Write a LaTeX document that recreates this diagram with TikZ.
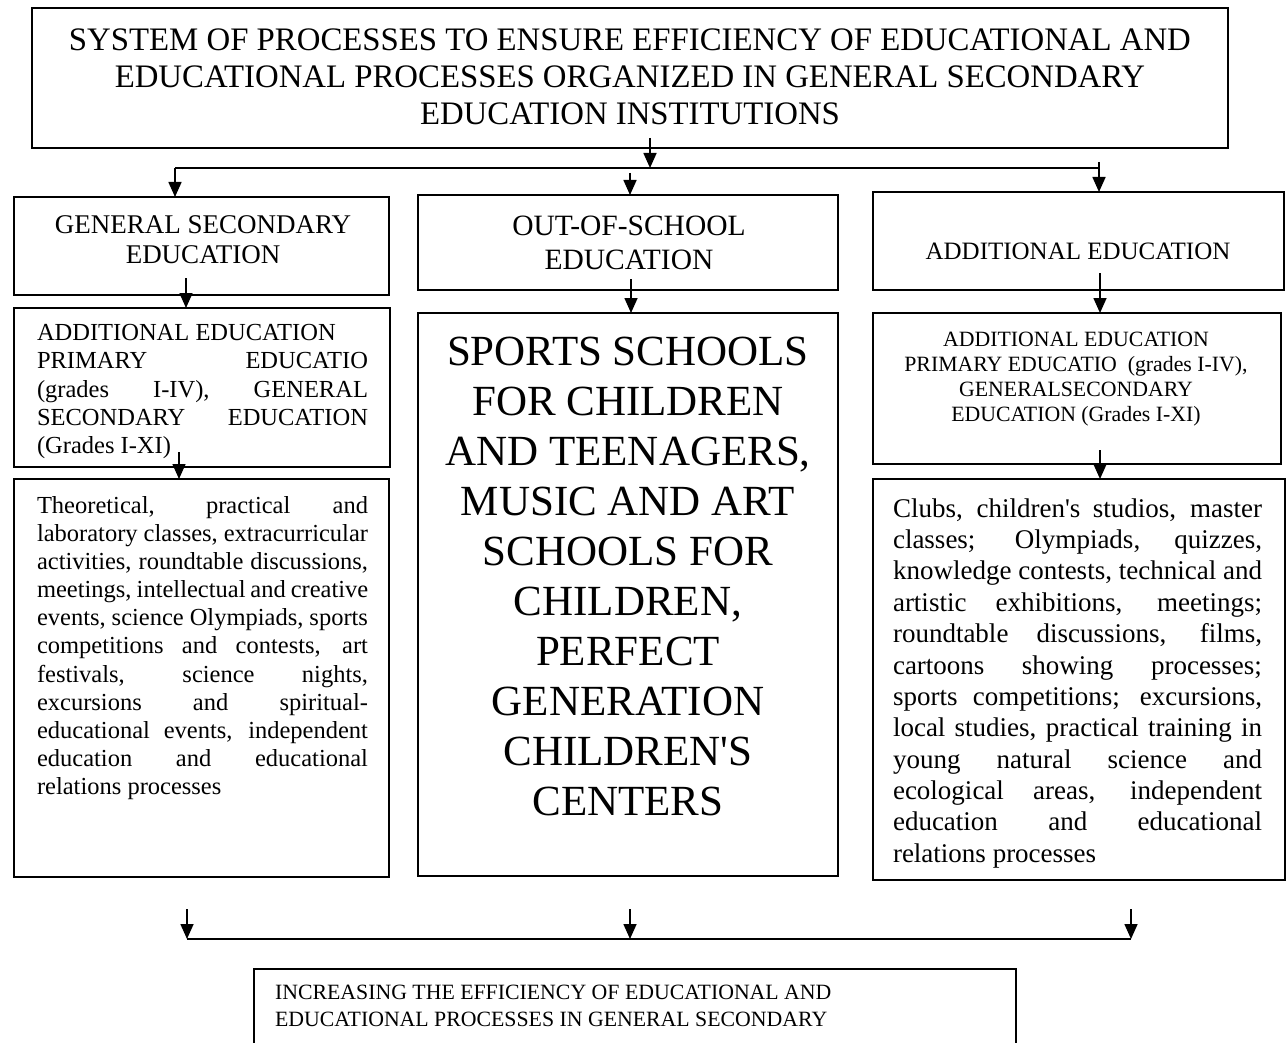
\documentclass[tikz,border=0pt]{standalone}
\usepackage{fontspec}
\setmainfont{Liberation Serif}[Ligatures=TeXOff]
\usetikzlibrary{arrows.meta}
\newcommand\JL[1]{\hbox to\hsize{\spaceskip=0.25em plus 1fil minus 0.05em\relax #1}}
\newcommand\NL[1]{\hbox to\hsize{#1\hfil}}
\tikzset{
  box/.style={draw, line width=1.8pt, rectangle, inner sep=0pt, outer sep=0pt, anchor=north west},
  txt/.style={inner sep=0pt, outer sep=0pt},
  arr/.style={line width=1.6pt, -{Triangle[length=15pt,width=13pt]}},
  hl/.style={line width=2.2pt}
}
\begin{document}
\begin{tikzpicture}[x=1pt,y=-1pt]
\useasboundingbox[fill=white] (0,0) rectangle (1287,1043);
% boxes
\node[box, minimum width=1196pt, minimum height=140pt] (top) at (32,8) {};
\node[box, minimum width=375pt, minimum height=98pt] (gse) at (14,197) {};
\node[box, minimum width=420pt, minimum height=95pt] (oos) at (418,195) {};
\node[box, minimum width=411pt, minimum height=98pt] (ae) at (873,192) {};
\node[box, minimum width=376pt, minimum height=159pt] (lb2) at (14,308) {};
\node[box, minimum width=420pt, minimum height=563pt] (mb) at (418,313) {};
\node[box, minimum width=408pt, minimum height=151pt] (rb2) at (873,313) {};
\node[box, minimum width=375pt, minimum height=398pt] (lb4) at (14,479) {};
\node[box, minimum width=412pt, minimum height=401pt] (rb4) at (873,479) {};
\node[box, minimum width=762pt, minimum height=200pt] (bot) at (254,969) {};
% texts
\node[txt, anchor=north, align=center, font=\fontsize{32.8}{37}\selectfont] (t1) at (630,28.6)
  {SYSTEM OF PROCESSES TO ENSURE EFFICIENCY OF EDUCATIONAL AND\\
   EDUCATIONAL PROCESSES ORGANIZED IN GENERAL SECONDARY\\
   EDUCATION INSTITUTIONS};
\node[txt, anchor=north, align=center, font=\fontsize{27}{30}\selectfont] (t2) at (203,215.5)
  {GENERAL SECONDARY\\ EDUCATION};
\node[txt, anchor=north, align=center, font=\fontsize{29.5}{34}\selectfont] (t3) at (629,215.7)
  {OUT-OF-SCHOOL\\ EDUCATION};
\node[txt, anchor=north, align=center, font=\fontsize{25}{29}\selectfont] (t4) at (1078,243.2)
  {ADDITIONAL EDUCATION};
\node[txt, anchor=north west, font=\fontsize{24.5}{28.3}\selectfont] (t5) at (37,324.4)
  {\parbox{331pt}{%
   \NL{ADDITIONAL EDUCATION}
   \JL{PRIMARY EDUCATIO}
   \JL{(grades I-IV), GENERAL}
   \JL{SECONDARY EDUCATION}
   \NL{(Grades I-XI)}}};
\node[txt, anchor=north, align=center, font=\fontsize{43}{50}\selectfont] (t6) at (628,337)
  {SPORTS SCHOOLS\\ FOR CHILDREN\\ AND TEENAGERS,\\ MUSIC AND ART\\ SCHOOLS FOR\\
   CHILDREN,\\ PERFECT\\ GENERATION\\ CHILDREN'S\\ CENTERS};
\node[txt, anchor=north, align=center, font=\fontsize{21.8}{25}\selectfont] (t7) at (1076,332.4)
  {ADDITIONAL EDUCATION\\ PRIMARY EDUCATIO~ (grades I-IV),\\ GENERALSECONDARY\\ EDUCATION (Grades I-XI)};
\node[txt, anchor=north west, font=\fontsize{24.5}{28.1}\selectfont] (t8) at (37,496.4)
  {\parbox{331pt}{%
   \JL{Theoretical, practical and}
   \JL{laboratory classes, extracurricular}
   \JL{activities, roundtable discussions,}
   \JL{meetings, intellectual and creative}
   \JL{events, science Olympiads, sports}
   \JL{competitions and contests, art}
   \JL{festivals, science nights,}
   \JL{excursions and spiritual-}
   \JL{educational events, independent}
   \JL{education and educational}
   \NL{relations processes}}};
\node[txt, anchor=north west, font=\fontsize{27}{31.36}\selectfont] (t9) at (893,498.5)
  {\parbox{369pt}{%
   \JL{Clubs, children's studios, master}
   \JL{classes; Olympiads, quizzes,}
   \JL{knowledge contests, technical and}
   \JL{artistic exhibitions, meetings;}
   \JL{roundtable discussions, films,}
   \JL{cartoons showing processes;}
   \JL{sports competitions; excursions,}
   \JL{local studies, practical training in}
   \JL{young natural science and}
   \JL{ecological areas, independent}
   \JL{education and educational}
   \NL{relations processes}}};
\node[txt, anchor=north west, align=left, font=\fontsize{21.8}{27}\selectfont] (t10) at (275,985.4)
  {INCREASING THE EFFICIENCY OF EDUCATIONAL AND\\ EDUCATIONAL PROCESSES IN GENERAL SECONDARY};
% connectors
\coordinate (s1) at (650,138);
\coordinate (j1) at (650,168);
\coordinate (jL) at (175,168);
\coordinate (jR) at (1098,168);
\draw[hl] (jL) -- (jR);
\draw[arr] (s1) -- (j1);
\draw[arr] (jL) -- (jL |- gse.north);
\coordinate (s2) at (630,173);
\draw[arr] (s2) -- (s2 |- oos.north);
\coordinate (s3) at (1099,162);
\draw[arr] (s3) -- (s3 |- ae.north);
\coordinate (s4) at (186,278);
\draw[arr] (s4) -- (s4 |- lb2.north);
\coordinate (s5) at (631,279);
\draw[arr] (s5) -- (s5 |- mb.north);
\coordinate (s6) at (1100,273);
\draw[arr] (s6) -- (s6 |- rb2.north);
\coordinate (s7) at (179,452);
\draw[arr] (s7) -- (s7 |- lb4.north);
\coordinate (s8) at (1100,450);
\draw[arr] (s8) -- (s8 |- rb4.north);
\coordinate (b1) at (187,909);
\coordinate (b2) at (630,909);
\coordinate (b3) at (1131,909);
\coordinate (c1) at (187,939);
\coordinate (c2) at (630,939);
\coordinate (c3) at (1131,939);
\draw[hl] (c1) -- (c3);
\draw[arr] (b1) -- (c1);
\draw[arr] (b2) -- (c2);
\draw[arr] (b3) -- (c3);
\end{tikzpicture}
\end{document}
